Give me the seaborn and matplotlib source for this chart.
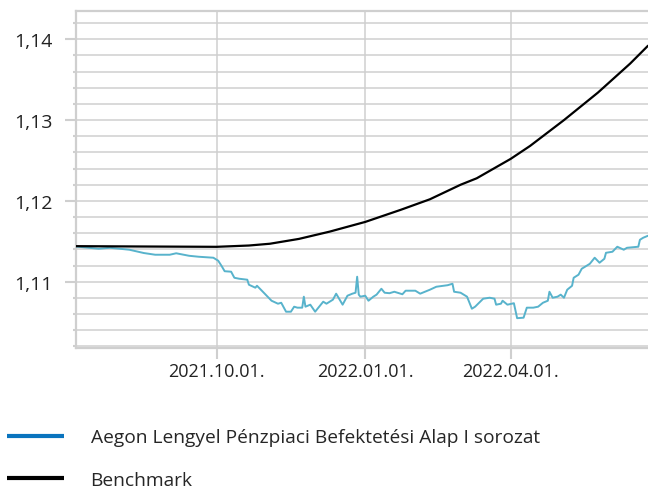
import pandas as pd
import matplotlib
matplotlib.use("Agg")
import matplotlib.pyplot as plt
import matplotlib.dates as mdates
from matplotlib.ticker import MultipleLocator, FuncFormatter
from matplotlib.lines import Line2D
import seaborn as sns

fund_dates = [
    "2021-07-06", "2021-07-20", "2021-07-27", "2021-08-08", "2021-08-17", "2021-08-24",
    "2021-09-02", "2021-09-06", "2021-09-14", "2021-09-20", "2021-09-29", "2021-10-02",
    "2021-10-04", "2021-10-06", "2021-10-10", "2021-10-12", "2021-10-15", "2021-10-20",
    "2021-10-21", "2021-10-25", "2021-10-26", "2021-10-29", "2021-11-01", "2021-11-04",
    "2021-11-08", "2021-11-10", "2021-11-13", "2021-11-16", "2021-11-18", "2021-11-20",
    "2021-11-23", "2021-11-24", "2021-11-25", "2021-11-28", "2021-12-01", "2021-12-03",
    "2021-12-06", "2021-12-08", "2021-12-12", "2021-12-14", "2021-12-18", "2021-12-21",
    "2021-12-24", "2021-12-26", "2021-12-27", "2021-12-28", "2021-12-29", "2022-01-01",
    "2022-01-03", "2022-01-06", "2022-01-08", "2022-01-11", "2022-01-13", "2022-01-16",
    "2022-01-19", "2022-01-24", "2022-01-26", "2022-02-01", "2022-02-04", "2022-02-10",
    "2022-02-14", "2022-02-21", "2022-02-24", "2022-02-25", "2022-03-01", "2022-03-05",
    "2022-03-08", "2022-03-10", "2022-03-15", "2022-03-19", "2022-03-22", "2022-03-23",
    "2022-03-26", "2022-03-27", "2022-03-30", "2022-04-03", "2022-04-04", "2022-04-05",
    "2022-04-09", "2022-04-11", "2022-04-15", "2022-04-18", "2022-04-21", "2022-04-24",
    "2022-04-25", "2022-04-27", "2022-04-30", "2022-05-02", "2022-05-04", "2022-05-06",
    "2022-05-09", "2022-05-10", "2022-05-13", "2022-05-15", "2022-05-17", "2022-05-20",
    "2022-05-23", "2022-05-26", "2022-05-29", "2022-05-30", "2022-06-03", "2022-06-06",
    "2022-06-10", "2022-06-12", "2022-06-19", "2022-06-20", "2022-06-22", "2022-06-25",
]
fund_values = [
    1.11436, 1.11408, 1.11420, 1.11396, 1.11355, 1.11334,
    1.11334, 1.11352, 1.11321, 1.11309, 1.11297, 1.11260,
    1.11198, 1.11130, 1.11124, 1.11049, 1.11037, 1.11025,
    1.10963, 1.10926, 1.10950, 1.10889, 1.10827, 1.10765,
    1.10728, 1.10740, 1.10629, 1.10629, 1.10691, 1.10679,
    1.10679, 1.10815, 1.10691, 1.10716, 1.10629, 1.10679,
    1.10753, 1.10728, 1.10778, 1.10852, 1.10716, 1.10827,
    1.10852, 1.10864, 1.11062, 1.10840, 1.10815, 1.10827,
    1.10765, 1.10815, 1.10840, 1.10913, 1.10864, 1.10858,
    1.10876, 1.10845, 1.10889, 1.10889, 1.10852, 1.10901,
    1.10938, 1.10957, 1.10975, 1.10876, 1.10864, 1.10815,
    1.10666, 1.10691, 1.10790, 1.10802, 1.10790, 1.10716,
    1.10728, 1.10765, 1.10716, 1.10734, 1.10642, 1.10549,
    1.10555, 1.10679, 1.10679, 1.10691, 1.10740, 1.10765,
    1.10876, 1.10802, 1.10815, 1.10840, 1.10802, 1.10901,
    1.10950, 1.11049, 1.11087, 1.11161, 1.11185, 1.11222,
    1.11297, 1.11235, 1.11284, 1.11358, 1.11371, 1.11433,
    1.11396, 1.11420, 1.11433, 1.11519, 1.11544, 1.11569,
]

bench_dates = [
    "2021-07-06", "2021-08-15", "2021-10-01", "2021-10-21", "2021-11-03", "2021-11-21",
    "2021-12-10", "2022-01-01", "2022-01-23", "2022-02-10", "2022-03-01", "2022-03-11",
    "2022-04-01", "2022-04-13", "2022-05-04", "2022-05-25", "2022-06-14", "2022-06-25",
]
bench_values = [
    1.11440, 1.11436, 1.11432, 1.11448, 1.11470, 1.11530,
    1.11620, 1.11740, 1.11890, 1.12020, 1.12200, 1.12280,
    1.12520, 1.12680, 1.13000, 1.13340, 1.13700, 1.13920,
]

fund_label = "Aegon Lengyel Pénzpiaci Befektetési Alap I sorozat"
bench_label = "Benchmark"

fund = pd.DataFrame({"date": pd.to_datetime(fund_dates), "value": fund_values})
bench = pd.DataFrame({"date": pd.to_datetime(bench_dates), "value": bench_values})

sns.set_theme(style="white")
plt.rcParams["font.family"] = ["Open Sans", "DejaVu Sans"]

fig = plt.figure(figsize=(6.48, 4.89), dpi=100)
ax = fig.add_axes([0.1173, 0.2863, 0.8827, 0.6892])

grid_c = "#cfcfcf"
sns.lineplot(data=fund, x="date", y="value", ax=ax, color="#58b3cc", linewidth=1.4, zorder=3)
sns.lineplot(data=bench, x="date", y="value", ax=ax, color="black", linewidth=1.6, zorder=4)

ax.set_xlim(fund["date"].min(), fund["date"].max())
ax.set_ylim(1.1018, 1.1435)

ax.yaxis.set_major_locator(MultipleLocator(0.01))
ax.yaxis.set_minor_locator(MultipleLocator(0.002))
ax.yaxis.set_major_formatter(FuncFormatter(lambda v, p: f"{v:.2f}".replace(".", ",")))
ax.xaxis.set_major_locator(mdates.MonthLocator(bymonth=[1, 4, 7, 10], bymonthday=1))
ax.xaxis.set_major_formatter(mdates.DateFormatter("%Y.%m.%d."))

ax.grid(True, which="minor", axis="y", color=grid_c, linewidth=1.1)
ax.grid(True, which="major", axis="y", color=grid_c, linewidth=1.1)
ax.grid(True, which="major", axis="x", color=grid_c, linewidth=1.1)
ax.set_axisbelow(True)

ax.tick_params(axis="y", which="major", length=8, width=1.5, color=grid_c, pad=9,
               labelsize=14, labelcolor="#222222", left=True)
ax.tick_params(axis="y", which="minor", length=2.5, width=1.5, color=grid_c, left=True)
ax.tick_params(axis="x", which="major", length=8, width=1.5, color=grid_c, pad=2,
               labelsize=13, labelcolor="#222222", bottom=True)

for side in ["left", "bottom", "top"]:
    ax.spines[side].set_color(grid_c)
    ax.spines[side].set_linewidth(1.6)
ax.spines["right"].set_visible(False)

ax.set_xlabel("")
ax.set_ylabel("")

# legend handles: blue swatch differs from the plotted cyan line, as in the original
handles = [Line2D([], [], color="#0a74be", linewidth=3, solid_capstyle="butt"),
           Line2D([], [], color="black", linewidth=3, solid_capstyle="butt")]
fig.legend(handles, [fund_label, bench_label], loc="upper left",
           bbox_to_anchor=(0.011, 0.122), bbox_transform=fig.transFigure,
           frameon=False, fontsize=13.8, handlelength=2.95, handletextpad=1.4,
           labelspacing=1.27, borderaxespad=0, borderpad=0)

fig.savefig("out.png", dpi=100)
